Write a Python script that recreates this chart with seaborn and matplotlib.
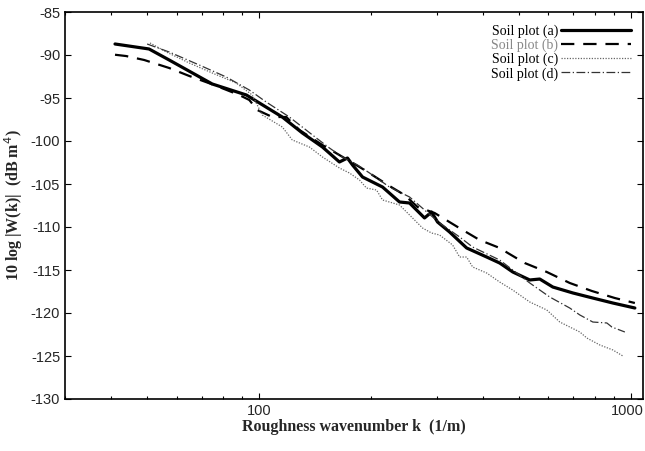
import numpy as np
import pandas as pd
import matplotlib
matplotlib.use("Agg")
import matplotlib.pyplot as plt
import matplotlib.transforms as mtransforms
import seaborn as sns

# ---- data ----
k_a = [40.9, 50.5, 57.2, 74.7, 92.3, 115.3, 130.6, 147.9, 164.3, 172.7, 178.2, 189.6, 214.6,
       238.4, 253.7, 278.4, 290.8, 301.8, 325.1, 361.4, 409.2, 443.6, 480.9, 534.4, 568.5,
       616.5, 698.0, 790.0, 894.4, 1025]
w_a = [-88.72, -89.30, -90.58, -93.37, -94.65, -97.21, -99.07, -100.70, -102.44, -101.98,
       -102.79, -104.19, -105.35, -107.09, -107.21, -108.95, -108.26, -109.42, -110.58,
       -112.44, -113.49, -114.19, -115.23, -116.16, -116.05, -116.98, -117.67, -118.26,
       -118.84, -119.42]

k_b = [40.9, 43.8, 49.0, 57.2, 64.8, 75.6, 88.3, 94.0, 98.8, 108.4, 118.2, 128.2, 147.9,
       169.5, 191.9, 224.0, 246.0, 266.6, 296.3, 341.8, 391.7, 443.6, 466.3, 518.1, 593.8,
       684.6, 785.1, 905.6, 1025]
w_b = [-89.97, -90.12, -90.58, -91.51, -92.44, -93.49, -94.65, -95.23, -96.40, -97.21,
       -97.21, -98.72, -100.47, -101.98, -103.37, -105.23, -106.28, -107.67, -108.37,
       -110.00, -111.51, -112.44, -113.02, -114.19, -115.23, -116.51, -117.44, -118.26,
       -118.84]

k_c = [50.8, 56.2, 64.8, 74.7, 86.7, 95.7, 101.9, 115.3, 122.7, 136.4, 147.9, 164.3, 174.8,
       186.0, 194.3, 206.8, 214.6, 238.4, 253.7, 275.0, 290.8, 305.6, 331.3, 346.0, 361.4,
       375.1, 409.2, 443.6, 480.9, 534.4, 593.8, 643.8, 728.8, 761.2, 825.0, 894.4, 951.5]
w_c = [-88.60, -89.65, -90.93, -92.09, -93.26, -94.65, -96.98, -98.37, -99.88, -100.70,
       -101.86, -103.14, -103.72, -104.53, -105.47, -105.70, -106.86, -107.44, -108.60,
       -110.12, -110.70, -110.93, -112.09, -113.49, -113.49, -114.65, -115.35, -116.40,
       -117.33, -118.72, -119.65, -121.05, -122.21, -122.91, -123.72, -124.30, -125.00]

k_d = [49.9, 57.2, 68.9, 81.5, 94.0, 104.4, 120.5, 142.4, 154.4, 167.3, 183.8, 198.0, 224.0,
       253.7, 278.4, 305.6, 346.0, 375.1, 443.6, 480.9, 534.4, 604.9, 684.6, 728.8, 790.0,
       861.6, 888.9, 963.4]
w_d = [-88.72, -89.65, -91.16, -92.56, -94.07, -95.47, -97.21, -99.65, -100.81, -101.86,
       -102.79, -103.72, -105.35, -106.51, -108.02, -109.53, -111.16, -112.33, -113.84,
       -115.00, -116.51, -118.14, -119.42, -120.23, -121.05, -121.16, -121.63, -122.21]

labels = ["Soil plot (a)", "Soil plot (b)", "Soil plot (c)", "Soil plot (d)"]
y_ticks = [-85, -90, -95, -100, -105, -110, -115, -120, -125, -130]
x_ticks = [100, 1000]
x_tick_labels = ["100", "1000"]

sns.set_theme(style="ticks")
plt.rcParams["font.family"] = ["Liberation Sans", "DejaVu Sans"]
plt.rcParams["axes.unicode_minus"] = False

fig = plt.figure(figsize=(6.45, 4.51), dpi=100)
ax = fig.add_axes([65 / 645, 52 / 451, 578 / 645, 387 / 451])

series = [(k_a, w_a), (k_b, w_b), (k_c, w_c), (k_d, w_d)]
styles = [
    dict(color="black", linewidth=2.3, linestyle="-"),
    dict(color="black", linewidth=1.6, linestyle=(0, (6, 4))),
    dict(color="#666666", linewidth=0.9, linestyle=(0, (1, 1.2))),
    dict(color="#333333", linewidth=0.9, linestyle=(0, (7, 2, 1, 2))),
]
for (kk, ww), lab, st in zip(series, labels, styles):
    df = pd.DataFrame({"k": kk, "W": ww})
    sns.lineplot(data=df, x="k", y="W", ax=ax, label=lab, sort=False, **st)

ax.set_xscale("log")
ax.set_xlim(30, 1078)
ax.set_ylim(-130, -85)
ax.set_yticks(y_ticks)
ax.set_yticklabels([str(v) for v in y_ticks])
ax.set_xticks(x_ticks)
ax.set_xticklabels(x_tick_labels)
ax.tick_params(which="both", direction="in", top=True, right=True, labelsize=10.5,
               width=0.8, color="black")
ax.tick_params(which="major", length=4)
ax.tick_params(which="minor", length=2.5)
for sp in ax.spines.values():
    sp.set_linewidth(1.2)
    sp.set_color("black")

# nudge the rightmost tick label so it stays inside the figure
shift = mtransforms.ScaledTranslation(-4 / 100, 0, fig.dpi_scale_trans)
lab_1000 = ax.get_xticklabels()[-1]
lab_1000.set_transform(lab_1000.get_transform() + shift)

ax.set_xlabel("Roughness wavenumber k  (1/m)", family="Liberation Serif",
              fontweight="bold", fontsize=11.5, labelpad=1)
ax.set_ylabel("10 log |W(k)|  (dB m$^4$)", family="Liberation Serif",
              fontweight="bold", fontsize=11.5, labelpad=4)

leg = ax.legend(loc="upper right", frameon=False, markerfirst=False,
                prop={"family": "Liberation Serif", "size": 10},
                handlelength=5.0, handletextpad=0.2, labelspacing=0.05,
                borderaxespad=0.5)
for i, t in enumerate(leg.get_texts()):
    t.set_color("#888888" if i == 1 else "black")

fig.savefig("out.png", dpi=100)
